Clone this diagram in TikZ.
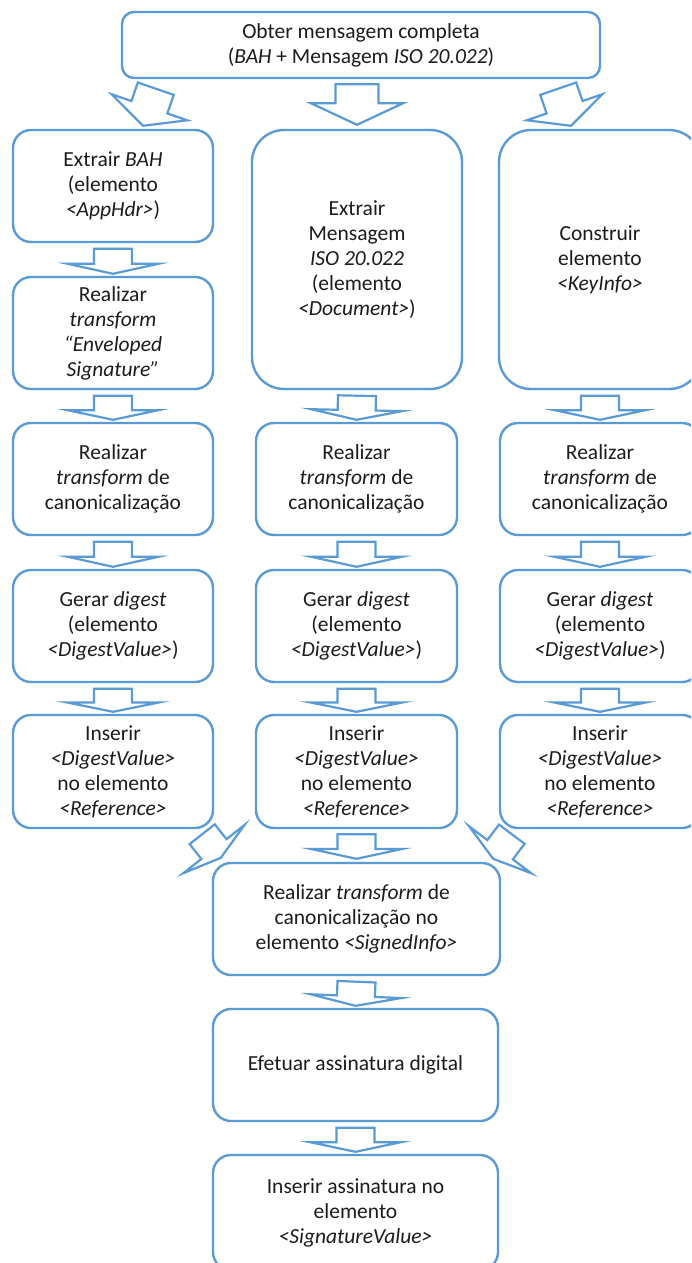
\documentclass[tikz,border=0pt]{standalone}
\usepackage{fontspec}
\setmainfont{Carlito}
\usetikzlibrary{calc}
\definecolor{bblue}{HTML}{5B9BD5}
\definecolor{txt}{HTML}{1C1C1C}
\tikzset{
  box/.style={draw=bblue, line width=2.4pt, fill=white, rounded corners=18pt,
    align=center, text=txt, font=\fontsize{21.5}{25}\selectfont, inner sep=0pt,
    minimum width=200pt, minimum height=112pt},
  barr/.style={draw=bblue, line width=2.2pt, fill=white, line join=miter},
}
% block arrow: tail coord, tip coord, shaft fraction, half shaft width, half head width
\newcommand\barrow[5]{%
  \draw[barr] ($(#1)!#4pt!90:(#2)$) -- ($(#1)!#3!(#2)!#4pt!90:(#2)$)
    -- ($(#1)!#3!(#2)!#5pt!90:(#2)$) -- (#2)
    -- ($(#1)!#3!(#2)!#5pt!-90:(#2)$) -- ($(#1)!#3!(#2)!#4pt!-90:(#2)$)
    -- ($(#1)!#4pt!-90:(#2)$) -- cycle;}
\newcommand\varrow[2]{%
  \coordinate (vt) at ($(#1.south)+(0,5.5)$);
  \coordinate (vp) at ($(#2.north)+(0,-2)$);
  \barrow{vt}{vp}{0.6}{19}{45.5}}
\begin{document}
\begin{tikzpicture}[x=1pt,y=-1pt]
\useasboundingbox (0,0) rectangle (691,1263);
\clip (0,0) rectangle (691,1263);
\fill[white] (0,0) rectangle (691,1263);

% top
\node[box, minimum width=478pt, minimum height=66pt, rounded corners=12pt] (top) at (361,45)
  {Obter mensagem completa\\(\textit{BAH} + Mensagem \textit{ISO 20.022})};

% left column
\node[box] (L1) at (113,186) {Extrair \textit{BAH}\\(elemento\\\textit{<AppHdr>})};
\node[box] (L2) at (113,333) {Realizar\\\textit{transform}\\\textit{“Enveloped}\\\textit{Signature”}};
\node[box] (L3) at (113,479) {Realizar\\\textit{transform} de\\canonicalização};
\node[box] (L4) at (113,626) {Gerar \textit{digest}\\(elemento\\\textit{<DigestValue>})};
\node[box, minimum height=113pt] (L5) at (113,771.5) {Inserir\\\textit{<DigestValue>}\\no elemento\\\textit{<Reference>}};

% middle column
\node[box, minimum width=210pt, minimum height=259pt, rounded corners=32pt] (M1) at (357,259.5)
  {Extrair\\Mensagem\\\textit{ISO 20.022}\\(elemento\\\textit{<Document>})};
\node[box, minimum width=201pt] (M3) at (356.5,479) {Realizar\\\textit{transform} de\\canonicalização};
\node[box, minimum width=201pt] (M4) at (356.5,626) {Gerar \textit{digest}\\(elemento\\\textit{<DigestValue>})};
\node[box, minimum width=201pt, minimum height=113pt] (M5) at (356.5,771.5) {Inserir\\\textit{<DigestValue>}\\no elemento\\\textit{<Reference>}};

% right column
\node[box, minimum width=202pt, minimum height=259pt, rounded corners=32pt] (R1) at (600,259.5)
  {Construir\\elemento\\\textit{<KeyInfo>}};
\node[box] (R3) at (600,479) {Realizar\\\textit{transform} de\\canonicalização};
\node[box] (R4) at (600,626) {Gerar \textit{digest}\\(elemento\\\textit{<DigestValue>})};
\node[box, minimum height=113pt] (R5) at (600,771.5) {Inserir\\\textit{<DigestValue>}\\no elemento\\\textit{<Reference>}};

% bottom
\node[box, minimum width=287pt] (B1) at (356.5,919) {Realizar \textit{transform} de\\canonicalização no\\elemento \textit{<SignedInfo>}};
\node[box, minimum width=285pt] (B2) at (355.5,1065) {Efetuar assinatura digital};
\node[box, minimum width=285pt, minimum height=115pt] (B3) at (355.5,1212.5) {Inserir assinatura no\\elemento\\\textit{<SignatureValue>}};

% arrows from top box
\coordinate (t0) at ($(top.south -| M1.north)+(0,5)$);
\coordinate (p0) at ($(M1.north)+(0,-4)$);
\barrow{t0}{p0}{0.47}{21.5}{46}
\coordinate (tl) at ($(top.south west)+(35,9.5)$);
\coordinate (pl) at ($(L1.north)+(30,-3)$);
\barrow{tl}{pl}{0.5}{19}{40}
\coordinate (tr) at ($(top.south east)+(-43,9.5)$);
\coordinate (pr) at ($(R1.north)+(-29,-3)$);
\barrow{tr}{pr}{0.5}{19}{40}

% vertical arrows
\varrow{L1}{L2}
\varrow{L2}{L3}
\varrow{L3}{L4}
\varrow{L4}{L5}
\varrow{M1}{M3}
\varrow{M3}{M4}
\varrow{M4}{M5}
\varrow{R1}{R3}
\varrow{R3}{R4}
\varrow{R4}{R5}
\coordinate (tm) at ($(M5.south)+(0,5)$);
\coordinate (pm) at ($(B1.north)+(0,-3)$);
\barrow{tm}{pm}{0.6}{19}{45.5}
\varrow{B1}{B2}
\varrow{B2}{B3}

% converging arrows
\coordinate (tbl) at ($(L5.south east)+(-12,5)$);
\coordinate (pbl) at ($(B1.north west)+(9,-4)$);
\barrow{tbl}{pbl}{0.63}{16}{39}
\coordinate (tbr) at ($(R5.south west)+(13,5)$);
\coordinate (pbr) at ($(B1.north east)+(-8,-3)$);
\barrow{tbr}{pbr}{0.63}{16}{39}
\end{tikzpicture}
\end{document}
